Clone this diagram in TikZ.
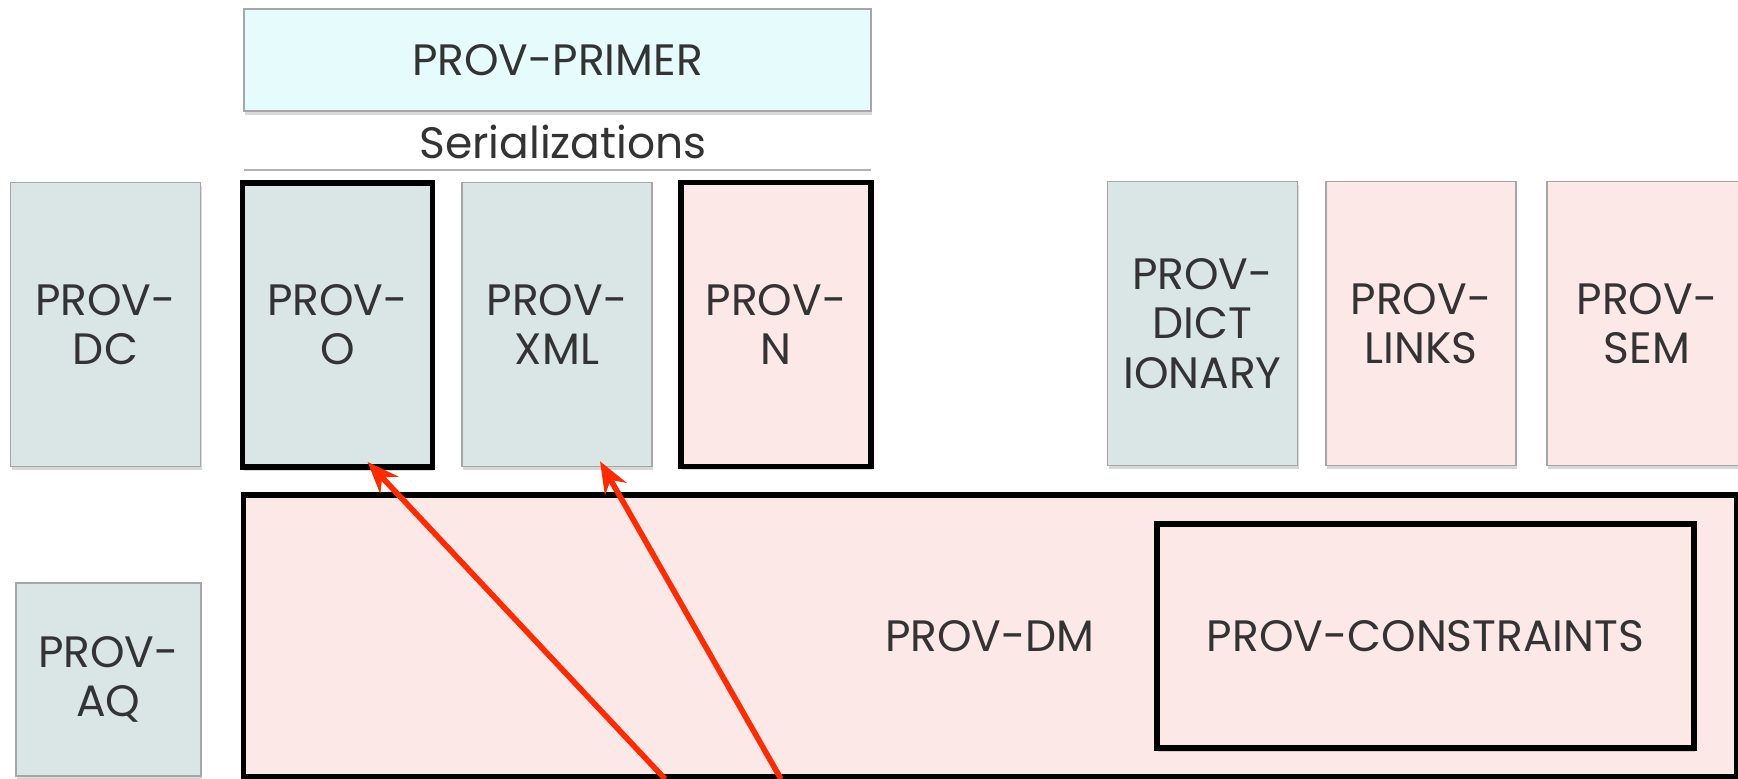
\documentclass[tikz,border=0pt]{standalone}
\usepackage{fontspec}
\setmainfont{Poppins}
\usetikzlibrary{arrows.meta,shadows}
\definecolor{provblue}{HTML}{DAE6E6}
\definecolor{provpink}{HTML}{FDE8E8}
\definecolor{provcyan}{HTML}{E6FCFC}
\definecolor{provred}{HTML}{FF2A00}
\definecolor{provtext}{HTML}{333333}
\begin{document}
\begin{tikzpicture}[x=0.01cm, y=-0.01cm,
    doc/.style={draw=gray!70, line width=0.4pt, align=center, inner sep=0pt,
      text=provtext, font=\fontsize{12.5}{14}\selectfont,
      minimum width=1.9cm, minimum height=2.84cm,
      drop shadow={shadow xshift=0.3pt, shadow yshift=-1pt, opacity=0.3}},
    bold/.style={draw=black, line width=1.6pt},
    arr/.style={provred, line width=1.6pt, -{Stealth[length=9pt, width=7pt]}}]
  \useasboundingbox[fill=white] (0,0) rectangle (1738,779);

  \node[doc, fill=provcyan, minimum width=6.27cm, minimum height=1.02cm] (primer) at (557.5,60) {PROV-PRIMER};
  \node[text=provtext, font=\fontsize{12.5}{14}\selectfont] (serial) at (563,142) {Serializations};
  \draw[gray!60, line width=0.6pt] (244,170) -- (871,170);

  % serializations and the others
  \node[doc, fill=provblue] (dc) at (105.5,324.5) {PROV-\\DC};
  \node[doc, bold, fill=provblue] (o) at (337.5,325) {PROV-\\O};
  \node[doc, fill=provblue] (xml) at (557,324.5) {PROV-\\XML};
  \node[doc, bold, fill=provpink] (n) at (776,324.5) {PROV-\\N};

  \node[doc, fill=provblue] (dict) at (1202.5,323.5) {PROV-\\DICT\\IONARY};
  \node[doc, fill=provpink] (links) at (1421,323.5) {PROV-\\LINKS};
  \node[doc, fill=provpink, minimum width=2cm] (sem) at (1647,323.5) {PROV-\\SEM};

  % data model
  \node[doc, bold, fill=provpink, minimum width=14.92cm, minimum height=2.82cm] (dm) at (990,636) {PROV-DM};
  \node[doc, bold, fill=provpink, minimum width=5.37cm, minimum height=2.24cm] (constr) at (1425.5,636) {PROV-CONSTRAINTS};
  \node[doc, fill=provblue, minimum width=1.85cm, minimum height=1.93cm] (aq) at (108.5,679.5) {PROV-\\AQ};

  \coordinate (src1) at (665,779);
  \coordinate (src2) at (781,779);
  \draw[arr] (src1) -- ([xshift=0.3cm, yshift=0.08cm]o.south);
  \draw[arr] (src2) -- ([xshift=0.43cm, yshift=0.06cm]xml.south);
\end{tikzpicture}
\end{document}
